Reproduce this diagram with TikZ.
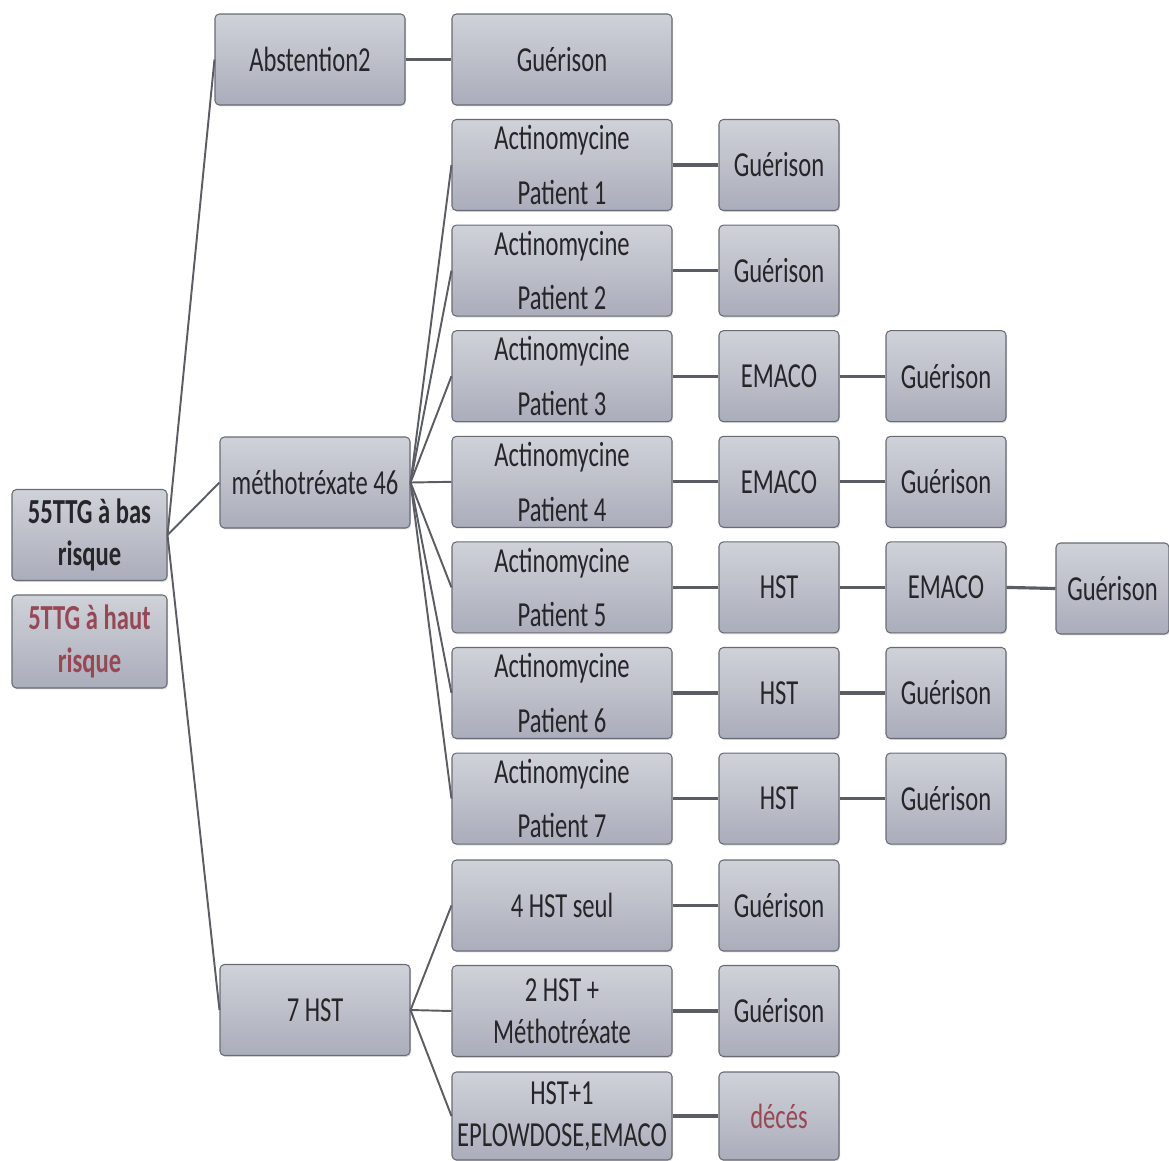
\documentclass[tikz,border=0pt]{standalone}
\usepackage{fontspec}
\setmainfont{Carlito}[FakeStretch=0.7]
\usetikzlibrary{shadows}

\definecolor{boxtop}{RGB}{208,210,217}
\definecolor{boxbottom}{RGB}{170,173,186}
\definecolor{boxline}{RGB}{105,107,116}
\definecolor{linkgray}{RGB}{92,93,100}
\definecolor{textdark}{RGB}{38,38,42}
\definecolor{riskred}{RGB}{150,72,84}

\begin{document}
\begin{tikzpicture}[x=0.02cm, y=-0.02cm,
    % --- Styles ---
    box node/.style={draw=boxline, line width=0.6pt, rounded corners=2.5pt,
        top color=boxtop, bottom color=boxbottom,
        drop shadow={opacity=0.25, shadow xshift=0.6pt, shadow yshift=-0.8pt},
        text=textdark, align=center, inner sep=0pt,
        font=\fontsize{20}{24}\selectfont,
        minimum height=91*0.02cm},
    % widths of the columns
    root box/.style={box node, minimum width=155*0.02cm, font=\fontsize{20}{24}\selectfont\bfseries},
    mid box/.style={box node, minimum width=190*0.02cm},
    wide box/.style={box node, minimum width=220*0.02cm},
    step box/.style={box node, minimum width=120*0.02cm},
    % Red text for the high-risk items
    red text/.style={text=riskred},
    fan line/.style={draw=linkgray, line width=1.1pt},
    link line/.style={draw=linkgray, line width=1.8pt}
]

\useasboundingbox (0,0) rectangle (1169,1160);

%================CONFIGURATION================
% \pitch: vertical distance between rows (px)
\def\pitch{105.6}
% x centres of the columns
\def\xC{562}
\def\xD{779}
\def\xE{946}
%=============================================

% --- Left column ---
\node[root box] (Root) at (89.5,535) {55TTG à bas\\risque};
\node[root box, red text, minimum height=93*0.02cm] (High) at (89.5,641.5) {5TTG à haut\\risque};

% --- Second column ---
\node[mid box] (Abs) at (310,59.5) {Abstention2};
\node[mid box] (Met) at (315,482.5) {méthotréxate 46};
\node[mid box] (Hst) at (315,1010) {7 HST};

\draw[fan line] (Root.east) -- (Abs.west);
\draw[fan line] (Root.east) -- (Met.west);
\draw[fan line] (Root.east) -- (Hst.west);

% --- Abstention branch ---
\node[wide box] (AbsG) at (\xC,59.5) {Guérison};
\draw[link line] (Abs.east) -- (AbsG.west);

% --- Methotrexate branch: one row per patient ---
\foreach \c/\stepA in {1/Guérison,2/Guérison,3/EMACO,4/EMACO,5/HST,6/HST,7/HST} {
    \pgfmathsetmacro{\yRow}{165 + (\c-1)*\pitch}
    \node[wide box] (Act\c) at (\xC,\yRow) {Actinomycine\\[7pt]Patient \c};
    \node[step box] (D\c) at (\xD,\yRow) {\stepA};
    \draw[fan line] (Met.east) -- (Act\c.west);
    \draw[link line] (Act\c.east) -- (D\c.west);
}

% third step, rows 3 to 7
\foreach \c/\stepB in {3/Guérison,4/Guérison,5/EMACO,6/Guérison,7/Guérison} {
    \pgfmathsetmacro{\yRow}{165 + (\c-1)*\pitch}
    \node[step box] (E\c) at (\xE,\yRow) {\stepB};
    \draw[link line] (D\c.east) -- (E\c.west);
}
% last step of patient 5
\node[step box, minimum width=113*0.02cm] (F5) at (1112.5,588.5) {Guérison};
\draw[link line] (E5.east) -- (F5.west);

% --- HST branch ---
\node[wide box] (H1) at (\xC,905.5) {4 HST seul};
\node[wide box] (H2) at (\xC,1011) {2 HST +\\Méthotréxate};
\node[wide box, minimum height=88*0.02cm] (H3) at (\xC,1116) {HST+1\\EPLOWDOSE,EMACO};
\node[step box] (HG1) at (\xD,905.5) {Guérison};
\node[step box] (HG2) at (\xD,1011) {Guérison};
\node[step box, red text, minimum height=88*0.02cm] (Dead) at (\xD,1116) {décés};

\foreach \n/\m in {H1/HG1,H2/HG2,H3/Dead} {
    \draw[fan line] (Hst.east) -- (\n.west);
    \draw[link line] (\n.east) -- (\m.west);
}

\end{tikzpicture}
\end{document}
